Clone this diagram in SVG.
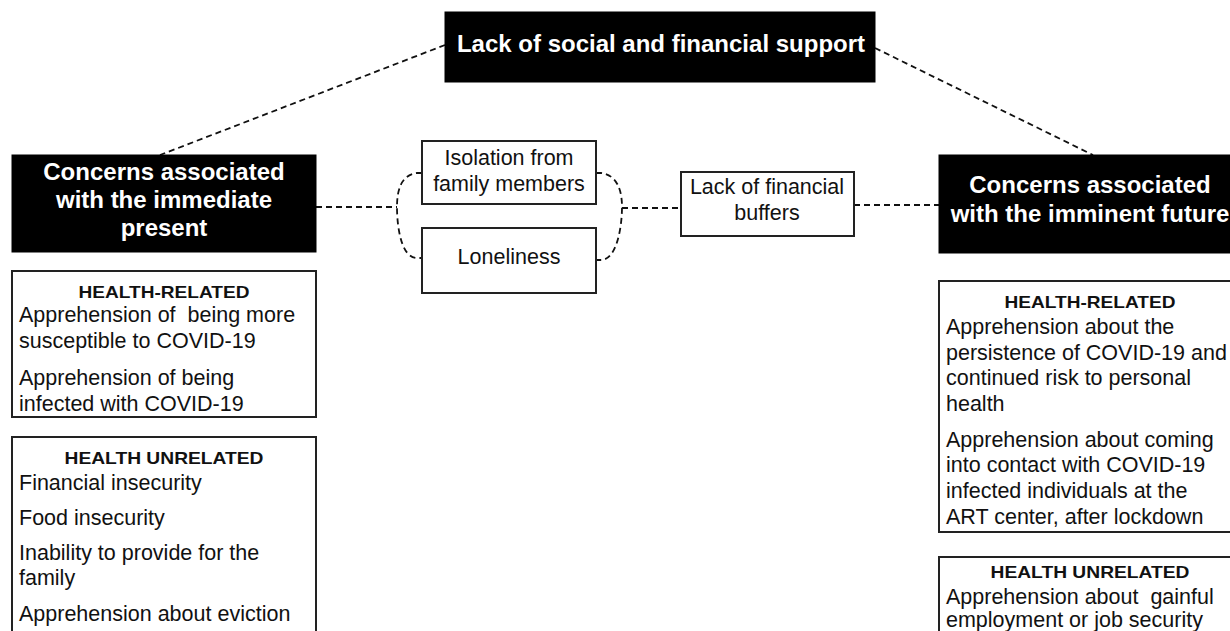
<svg xmlns="http://www.w3.org/2000/svg" width="1230" height="631" viewBox="0 0 1230 631">
<style>
.bg{fill:#fff}
.dark{fill:#000;stroke:#000;stroke-width:1}
.box{fill:#fff;stroke:#222;stroke-width:2}
.hd{font-family:"Liberation Sans",Arial,sans-serif;font-weight:bold;font-size:24px;fill:#fff;text-anchor:middle}
.ttl{font-family:"Liberation Sans",Arial,sans-serif;font-weight:bold;font-size:16.5px;fill:#111;text-anchor:middle}
.tx{font-family:"Liberation Sans",Arial,sans-serif;font-size:21.5px;fill:#111}
.cx{font-family:"Liberation Sans",Arial,sans-serif;font-size:21.5px;fill:#111;text-anchor:middle}
.dash{fill:none;stroke:#111;stroke-width:1.8;stroke-dasharray:6 4}
</style>
<rect class="bg" x="0" y="0" width="1230" height="631"/>
<g id="connectors">
<path class="dash" d="M445,45 L160,155"/>
<path class="dash" d="M875,48 L1093,155"/>
<path class="dash" d="M316,207 H397"/>
<path class="dash" d="M422,173 L417,173 C401,175 397,190 397,207 C397,226 401,258 417,258 L422,258"/>
<path class="dash" d="M596,173 L601,173 C617,175 622,190 622,207 C622,226 617,260 601,260 L596,260"/>
<path class="dash" d="M622,208 H681"/>
<path class="dash" d="M854,205 H939"/>
</g>
<g id="top">
<rect class="dark" x="445" y="12" width="430" height="70"/>
<text class="hd" x="661" y="52">Lack of social and financial support</text>
</g>
<g id="present">
<rect class="dark" x="12" y="155" width="304" height="97"/>
<text class="hd" x="164" y="180">Concerns associated</text>
<text class="hd" x="164" y="208">with the immediate</text>
<text class="hd" x="164" y="236">present</text>
</g>
<g id="future">
<rect class="dark" x="939" y="155" width="300" height="98"/>
<text class="hd" x="1090" y="193">Concerns associated</text>
<text class="hd" x="1090" y="222">with the imminent future</text>
</g>
<g id="isolation">
<rect class="box" x="422" y="141" width="174" height="63"/>
<text class="cx" x="509" y="165">Isolation from</text>
<text class="cx" x="509" y="191">family members</text>
</g>
<g id="loneliness">
<rect class="box" x="422" y="228" width="174" height="65"/>
<text class="cx" x="509" y="264">Loneliness</text>
</g>
<g id="buffers">
<rect class="box" x="681" y="172" width="173" height="64"/>
<text class="cx" x="767" y="194">Lack of financial</text>
<text class="cx" x="767" y="220">buffers</text>
</g>
<g id="present-health">
<rect class="box" x="12" y="271" width="304" height="146"/>
<text class="ttl" x="164" y="298" textLength="171" lengthAdjust="spacingAndGlyphs">HEALTH-RELATED</text>
<text class="tx" x="19" y="322" xml:space="preserve">Apprehension of  being more</text>
<text class="tx" x="19" y="348">susceptible to COVID-19</text>
<text class="tx" x="19" y="385">Apprehension of being</text>
<text class="tx" x="19" y="411">infected with COVID-19</text>
</g>
<g id="present-unrelated">
<rect class="box" x="12" y="437" width="304" height="200"/>
<text class="ttl" x="164" y="464" textLength="199" lengthAdjust="spacingAndGlyphs">HEALTH UNRELATED</text>
<text class="tx" x="19" y="490">Financial insecurity</text>
<text class="tx" x="19" y="525">Food insecurity</text>
<text class="tx" x="19" y="560">Inability to provide for the</text>
<text class="tx" x="19" y="585">family</text>
<text class="tx" x="19" y="621">Apprehension about eviction</text>
</g>
<g id="future-health">
<rect class="box" x="939" y="281" width="300" height="251"/>
<text class="ttl" x="1090" y="308" textLength="171" lengthAdjust="spacingAndGlyphs">HEALTH-RELATED</text>
<text class="tx" x="946" y="334">Apprehension about the</text>
<text class="tx" x="946" y="360">persistence of COVID-19 and</text>
<text class="tx" x="946" y="385">continued risk to personal</text>
<text class="tx" x="946" y="411">health</text>
<text class="tx" x="946" y="447">Apprehension about coming</text>
<text class="tx" x="946" y="472">into contact with COVID-19</text>
<text class="tx" x="946" y="498">infected individuals at the</text>
<text class="tx" x="946" y="524">ART center, after lockdown</text>
</g>
<g id="future-unrelated">
<rect class="box" x="939" y="557" width="300" height="100"/>
<text class="ttl" x="1090" y="578" textLength="199" lengthAdjust="spacingAndGlyphs">HEALTH UNRELATED</text>
<text class="tx" x="946" y="604" xml:space="preserve">Apprehension about  gainful</text>
<text class="tx" x="946" y="627">employment or job security</text>
</g>
</svg>
